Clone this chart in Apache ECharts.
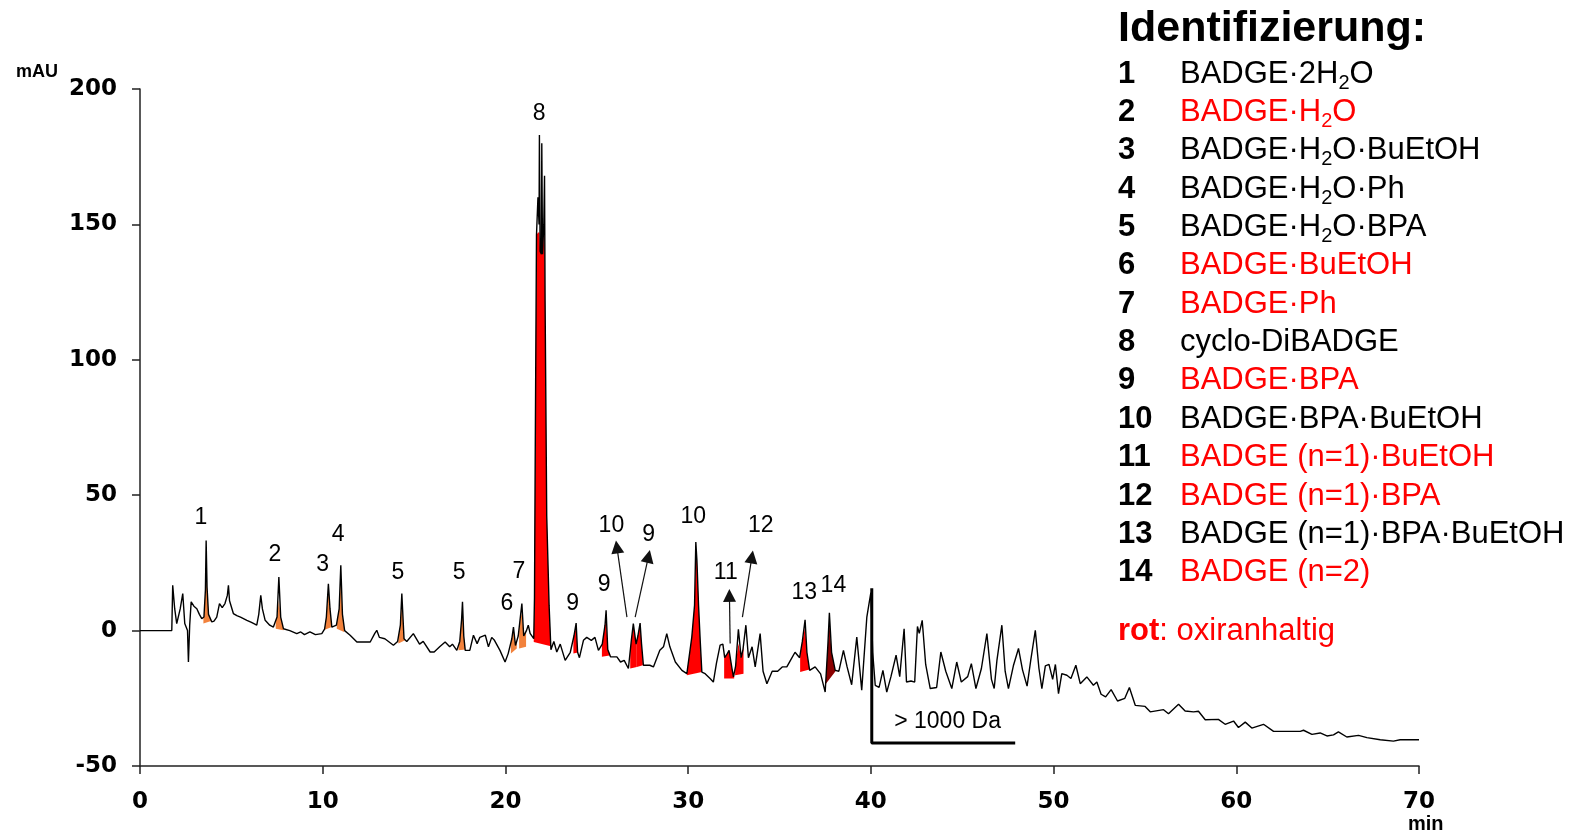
<!DOCTYPE html>
<html><head><meta charset="utf-8">
<script src="https://cdn.jsdelivr.net/npm/echarts@6/dist/echarts.min.js"></script>
<style>html,body{margin:0;padding:0;background:#fff}#c{width:1589px;height:832px}</style>
</head><body><div id="c"></div>
<script>
// ---- data (time in min, absorbance in mAU) ----
const chromatogram = [
[0,0],[1.74,0],[1.79,16.7],[1.9,8],[2.01,2.6],[2.2,8],[2.34,13.7],[2.45,2.6],[2.6,0],[2.65,-11.6],[2.72,2],[2.8,10.6],[2.95,9],[3.11,8.1],[3.25,6],[3.38,4.4],[3.5,5],[3.58,15],[3.62,33.3],[3.67,16],[3.75,6],[3.93,3.2],[4.05,3.5],[4.2,5],[4.35,10],[4.5,8.5],[4.65,10],[4.78,13],[4.84,16.7],[4.9,11],[5.11,6.3],[5.3,5.5],[5.5,5],[5.85,3.8],[6.1,3],[6.39,2],[6.5,6],[6.61,13],[6.7,8],[6.85,3.8],[7.1,2],[7.3,1.3],[7.5,5],[7.6,19.8],[7.7,5],[7.85,0.7],[8.2,0],[8.58,-1.1],[8.8,-0.5],[9.0,-1.5],[9.3,-0.5],[9.6,-1.5],[9.95,-1.1],[10.1,0.5],[10.2,5],[10.31,17.3],[10.4,8],[10.5,1.3],[10.75,2],[10.9,8],[10.99,24.1],[11.08,6],[11.2,0],[11.5,-1.7],[11.87,-4.2],[12.6,-4.2],[12.85,-1],[12.96,0.1],[13.1,-2.5],[13.4,-3],[13.87,-5.4],[14.1,-4],[14.25,2],[14.33,13.7],[14.45,-3],[14.6,-4],[14.96,-1.1],[15.3,-5],[15.5,-4],[15.88,-7.9],
[16.1,-7.9],[16.4,-6],[16.7,-4.2],[16.95,-6],[17.1,-5],[17.34,-7.3],[17.5,-4],[17.6,4],[17.65,10.6],[17.72,-2],[17.8,-7.3],[18.05,-7.3],[18.25,-1.7],[18.45,-4.8],[18.6,-2.5],[18.9,-1.7],[19.07,-6],[19.25,-2.5],[19.4,-3.6],[19.7,-7.3],[19.98,-11.6],[20.15,-8.5],[20.35,-3],[20.44,1.3],[20.55,-5.5],[20.7,-2],[20.8,4],[20.9,10],[21.0,-2],[21.15,0],[21.25,2],[21.35,-1],[21.45,-1],[21.55,-3],[21.59,12],[21.63,64],[21.7,146],[21.78,160],[21.84,150],[21.86,183],[21.9,140],[21.97,139],[21.99,180],[22.03,139],[22.1,150],[22.14,168],[22.17,122],[22.26,42.4],[22.39,9.4],[22.49,-7.1],[22.65,-4],[22.81,-7.9],[23.0,-5],[23.27,-11],[23.55,-8],[23.75,-2],[23.87,2.8],[23.95,-8],[24.05,-10],[24.27,-3.6],[24.45,-2.5],[24.7,-3.6],[24.9,-2.5],[25.09,-7.3],[25.3,-5],[25.45,2],[25.51,7.5],[25.6,-7],[25.75,-9.7],[26.1,-9.7],[26.3,-11.6],[26.5,-11],[26.73,-14],[26.9,-3],[27.0,2.6],[27.15,-5],[27.25,-2],[27.37,2.8],[27.45,-5],[27.55,-12.8],[27.9,-12.8],[28.1,-13.4],[28.45,-7.3],[28.65,-6],[28.83,-1.1],[29.0,-6],[29.3,-11.6],[29.66,-14.7],[29.93,-15.9],[30.2,-2.4],[30.35,9.3],[30.42,32.7],[30.48,26],[30.57,9.3],[30.66,-3.6],[30.75,-15.3],[30.93,-15.9],[31.2,-17.7],[31.38,-19],[31.55,-12],[31.75,-5.4],[31.9,-5],[32.0,-10],[32.1,-9],[32.24,-7.3],[32.4,-14],[32.48,-17.1],[32.6,-13],[32.75,0.5],[32.9,-10],[33.0,-7],[33.16,2],[33.3,-10],[33.5,-6],[33.67,-13.4],[33.94,-1.1],[34.1,-15],[34.31,-19.6],[34.6,-15],[34.9,-15],[35.15,-13.4],[35.4,-13.4],[35.6,-11],[35.85,-8],[36.1,-10],[36.25,-4],[36.4,4],[36.5,-8],[36.65,-14.7],[36.95,-13.4],[37.25,-16],[37.5,-22.7],[37.65,-5],[37.73,6.6],[37.85,-8],[38.05,-14.7],[38.25,-15],[38.5,-7.3],[38.7,-13.4],[38.95,-20],[39.23,-2.4],[39.5,-22],[39.78,5],[39.9,10],[40.0,14],[40.1,-8],[40.24,-20.2],[40.45,-21],[40.66,-14.7],[40.87,-22.7],[41.1,-17],[41.38,-9.1],[41.58,-17],[41.82,0.7],[41.95,-19],[42.2,-18.6],[42.4,-19],[42.55,1.5],[42.65,-1],[42.81,3.8],[43.0,-12.5],[43.25,-21.4],[43.6,-21],[43.83,-7.9],[44.1,-15],[44.43,-21.4],[44.7,-11.6],[44.95,-19],[45.3,-17],[45.5,-12.2],[45.75,-21.4],[46.05,-14],[46.35,-1.1],[46.6,-18],[46.75,-21.4],[46.9,-11],[47.17,2],[47.35,-15],[47.53,-21.4],[47.8,-13],[48.08,-6.6],[48.3,-14.5],[48.55,-20.5],[48.75,-11],[49.0,0.1],[49.2,-14],[49.36,-21.4],[49.55,-13],[49.75,-12.5],[49.95,-18],[50.1,-12.5],[50.27,-23.3],[50.45,-15.9],[50.73,-16.5],[50.95,-17.7],[51.22,-12.8],[51.46,-19.6],[51.82,-17.1],[52.18,-20.2],[52.37,-19],[52.6,-23.5],[52.85,-24.5],[53.15,-21.8],[53.5,-26],[53.9,-25],[54.15,-21],[54.47,-27.6],[55.01,-28],[55.29,-30],[56.02,-29.2],[56.29,-30.7],[56.84,-27.2],[57.2,-29.7],[57.66,-30],[57.93,-29.8],[58.3,-32.9],[59.02,-32.8],[59.39,-34.6],[59.85,-33.4],[60.12,-35.8],[60.49,-33.8],[60.85,-36],[61.49,-34.6],[62.04,-37.2],[63.5,-37.2],[63.68,-36.8],[64.14,-38.3],[64.59,-37.8],[64.96,-38.9],[65.32,-38.5],[65.59,-37.4],[66.05,-39.3],[66.69,-38.7],[67.15,-39.5],[67.88,-40.3],[68.6,-40.8],[68.97,-40.3],[70,-40.3]
];

// shaded peaks
const peakStart   = [3.47, 7.43, 10.04, 10.77, 14.14, 17.43, 20.3, 20.75, 21.55, 23.72, 25.28, 26.83, 27.19, 29.93, 31.97, 32.57, 36.13, 37.54];
const peakEnd     = [4.02, 7.85, 10.5, 11.17, 14.51, 17.83, 20.62, 21.13, 22.49, 24.09, 25.77, 27.19, 27.52, 30.75, 32.52, 33.03, 36.64, 38.14];
const peakFillTop = [21.6, 11.2, 14.3, 18.6, 11.6, 8.1, 1.3, 6.3, 147, 1.3, 4.4, 2, 2.8, 26, -7.3, -4.8, 1.3, 2.6];
const peakBaseStart = [2.6, 0.7, 0.1, 0.7, -4.8, -7.3, -8.5, -6.6, -4.2, -8.5, -9.7, -14, -13.4, -16.5, -17.7, -16.5, -15.3, -19.6];
const peakBaseEnd   = [3.8, 0.1, 1.3, -0.5, -3.6, -7, -6.6, -6, -5.8, -7.9, -9.1, -13.4, -12.8, -15.3, -17.7, -15.9, -14.4, -14.4];
const peakKind = ['o','o','o','o','o','o','o','o','r','r','r','r','r','r','r','r','r','d'];

// peak number labels
const peakLabelText = ['1','2','3','4','5','5','6','7','8','9','9','10','9','10','11','12','13','14'];
const peakLabelMin  = [3.33, 7.38, 10.0, 10.85, 14.12, 17.47, 20.08, 20.74, 21.85, 23.68, 25.4, 25.8, 27.84, 30.28, 32.06, 33.97, 36.36, 37.95];
const peakLabelMAU  = [41.8, 27.9, 24.3, 35.3, 21.3, 21.3, 10.1, 21.7, 190.8, 10.1, 16.8, 38.9, 35.4, 41.9, 21.5, 38.9, 13.9, 16.6];

// arrows (from peak to arrow head)
const arrowFrom = [[26.65, 5.0], [27.1, 5.0], [32.3, -4.8], [32.97, 5.0]];
const arrowTo   = [[26.1, 30.9], [27.83, 27.4], [32.26, 13.0], [33.49, 27.2]];

// "> 1000 Da" bracket
const bracketPath = [[40.05, 15.6], [40.05, -41.5], [47.9, -41.5]];
const bracketText = '> 1000 Da';
const bracketTextPos = [44.2, -33.8];

// axes
const xTicks = [0, 10, 20, 30, 40, 50, 60, 70];
const yTicks = [-50, 0, 50, 100, 150, 200];
const xName = 'min', yName = 'mAU';

// identification legend
const legendTitle = 'Identifizierung:';
const legendNums = ['1','2','3','4','5','6','7','8','9','10','11','12','13','14'];
const legendNames = ['BADGE·2H₂O','BADGE·H₂O','BADGE·H₂O·BuEtOH','BADGE·H₂O·Ph','BADGE·H₂O·BPA','BADGE·BuEtOH','BADGE·Ph','cyclo-DiBADGE','BADGE·BPA','BADGE·BPA·BuEtOH','BADGE (n=1)·BuEtOH','BADGE (n=1)·BPA','BADGE (n=1)·BPA·BuEtOH','BADGE (n=2)'];
const legendRed = [0,1,0,0,0,1,1,0,1,0,1,1,0,1];
const noteBold = 'rot', noteRest = ': oxiranhaltig';

// ---- chart ----
const RED = '#ff0000';
const kindColor = {o: '#f2823c', r: '#ff0000', d: '#8b0000'};
const AX = '"DejaVu Sans", sans-serif';
const AR = '"Liberation Sans", Arial, sans-serif';

function traceAt(t) {
  for (let i = 0; i < chromatogram.length - 1; i++) {
    const a = chromatogram[i], b = chromatogram[i + 1];
    if (t >= a[0] && t <= b[0]) return a[1] + (b[1] - a[1]) * (t - a[0]) / (b[0] - a[0]);
  }
  return 0;
}

const chart = echarts.init(document.getElementById('c'), null, {renderer: 'canvas'});

const rowBase = 83, rowStep = 38.36, FS = 31;
const baseRich = {
  n: {fontFamily: AR, fontWeight: 'bold', fontSize: FS, lineHeight: 38, color: '#000', width: 62},
  t: {fontFamily: AR, fontWeight: 'normal', fontSize: FS, lineHeight: 38, color: '#000'},
  ts: {fontFamily: AR, fontWeight: 'normal', fontSize: 20, lineHeight: 15, color: '#000', verticalAlign: 'bottom'},
  r: {fontFamily: AR, fontWeight: 'normal', fontSize: FS, lineHeight: 38, color: RED},
  rs: {fontFamily: AR, fontWeight: 'normal', fontSize: 20, lineHeight: 15, color: RED, verticalAlign: 'bottom'},
  rb: {fontFamily: AR, fontWeight: 'bold', fontSize: FS, lineHeight: 38, color: RED}
};
function richName(name, red) {
  const main = red ? 'r' : 't', sub = red ? 'rs' : 'ts';
  return name.split('₂').map(p => p ? '{' + main + '|' + p + '}' : '').join('{' + sub + '|2}');
}
const titles = [
  {text: legendTitle, left: 1118, top: 7.5, padding: 0,
   textStyle: {fontFamily: AR, fontWeight: 'bold', fontSize: 43, lineHeight: 43, color: '#000'}},
  {text: yName, left: 16, top: 62, padding: 0,
   textStyle: {fontFamily: AR, fontWeight: 'bold', fontSize: 18, lineHeight: 20, color: '#000'}},
  {text: xName, left: 1408, top: 814, padding: 0,
   textStyle: {fontFamily: AR, fontWeight: 'bold', fontSize: 20, lineHeight: 20, color: '#000'}},
  {text: '{rb|' + noteBold + '}{r|' + noteRest + '}', left: 1118, top: 640 - 28, padding: 0,
   textStyle: {rich: baseRich}}
];
legendNums.forEach((n, i) => {
  titles.push({
    text: '{n|' + n + '}' + richName(legendNames[i], legendRed[i]),
    left: 1118, top: rowBase + i * rowStep - 28, padding: 0,
    textStyle: {rich: baseRich}
  });
});

const labelItem = {color: 'rgba(0,0,0,0)', opacity: 1};

const option = {
  animation: false,
  backgroundColor: '#fff',
  title: titles,
  grid: {left: 140, right: 170, top: 89, bottom: 66, containLabel: false},
  xAxis: {
    type: 'value', min: xTicks[0], max: xTicks[xTicks.length - 1], interval: xTicks[1] - xTicks[0],
    axisLine: {show: true, onZero: false, lineStyle: {color: '#222', width: 1.5}},
    axisTick: {show: true, length: 8, lineStyle: {color: '#222', width: 1.5}},
    splitLine: {show: false},
    axisLabel: {margin: 25, fontFamily: AX, fontWeight: 'bold', fontSize: 23, color: '#000'}
  },
  yAxis: {
    type: 'value', min: yTicks[0], max: yTicks[yTicks.length - 1], interval: yTicks[1] - yTicks[0],
    axisLine: {show: true, onZero: false, lineStyle: {color: '#222', width: 1.5}},
    axisTick: {show: true, length: 8, lineStyle: {color: '#222', width: 1.5}},
    splitLine: {show: false},
    axisLabel: {margin: 23, fontFamily: AX, fontWeight: 'bold', fontSize: 23, color: '#000'}
  },
  series: [
    {
      type: 'custom', z: 2, silent: true,
      data: peakStart.map((s, k) => [s, 0, k]),
      encode: {x: 0, y: 1},
      renderItem: function (params, api) {
        const k = api.value(2);
        const s = peakStart[k], e = peakEnd[k], cap = peakFillTop[k];
        const b0 = peakBaseStart[k], b1 = peakBaseEnd[k];
        const base = t => b0 + (b1 - b0) * (t - s) / (e - s);
        const clamp = (t, v) => Math.max(Math.min(v, cap), base(t));
        const pts = [[s, b0], [s, clamp(s, traceAt(s))]];
        chromatogram.forEach(p => { if (p[0] > s && p[0] < e) pts.push([p[0], clamp(p[0], p[1])]); });
        pts.push([e, clamp(e, traceAt(e))], [e, b1]);
        return {type: 'polygon', shape: {points: pts.map(p => api.coord(p))},
                style: {fill: kindColor[peakKind[k]]}};
      }
    },
    {
      type: 'line', z: 3, silent: true, data: chromatogram, showSymbol: false, symbol: 'none',
      lineStyle: {color: '#000', width: 1.4}
    },
    {
      type: 'line', z: 4, silent: true, data: bracketPath, showSymbol: false, symbol: 'none',
      lineStyle: {color: '#000', width: 3}
    },
    {
      type: 'lines', coordinateSystem: 'cartesian2d', z: 4, silent: true,
      symbol: ['none', 'triangle'], symbolSize: 13,
      lineStyle: {color: '#111', width: 1.2, opacity: 1},
      data: arrowFrom.map((f, i) => ({coords: [f, arrowTo[i]]}))
    },
    {
      type: 'scatter', z: 5, silent: true, symbolSize: 1, itemStyle: labelItem,
      data: peakLabelText.map((s, i) => ({name: s, value: [peakLabelMin[i], peakLabelMAU[i]]})),
      label: {show: true, position: 'inside', formatter: '{b}', fontFamily: AR, fontSize: 23, color: '#000', opacity: 1}
    },
    {
      type: 'scatter', z: 5, silent: true, symbolSize: 1, itemStyle: labelItem,
      data: [{name: bracketText, value: bracketTextPos}],
      label: {show: true, position: 'inside', formatter: '{b}', fontFamily: AR, fontSize: 23, color: '#000', opacity: 1}
    }
  ]
};
chart.setOption(option);
</script>
</body></html>
